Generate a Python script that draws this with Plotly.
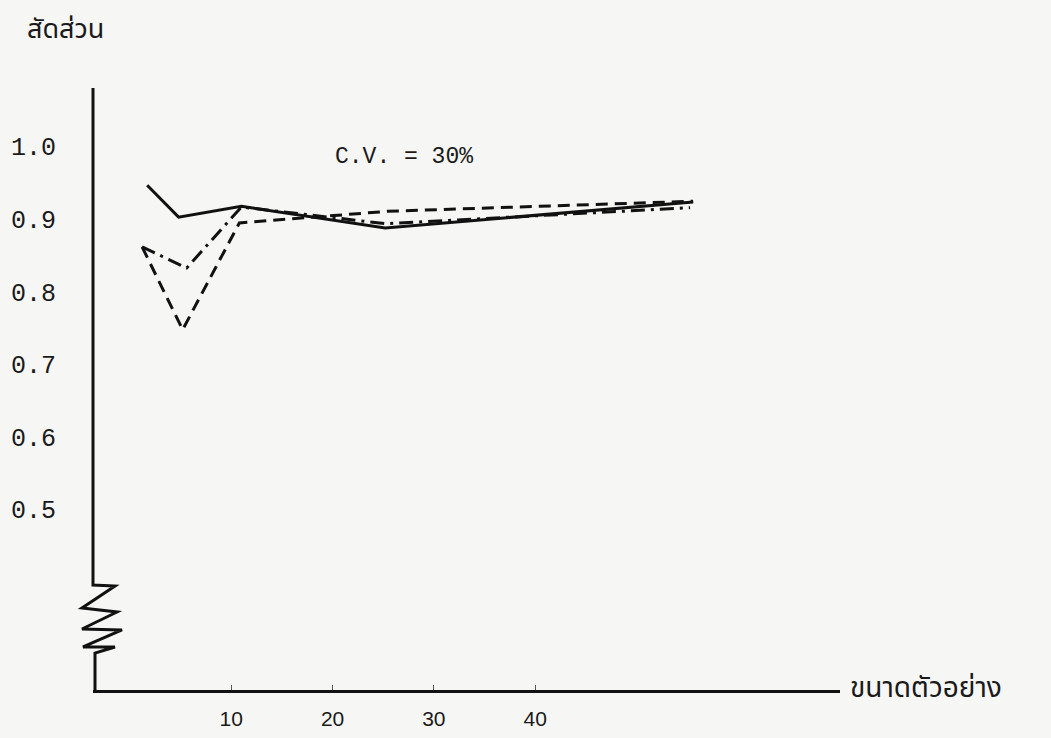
import plotly.graph_objects as go

# ---- data ----
solid_x = [1.7, 4.8, 11.0, 25.2, 55.6]
solid_y = [0.947, 0.903, 0.918, 0.888, 0.924]

dashed_x = [1.2, 5.2, 10.8, 25.4, 55.6]
dashed_y = [0.862, 0.748, 0.895, 0.911, 0.925]

dashdot_x = [1.2, 5.6, 11.0, 25.2, 55.3]
dashdot_y = [0.862, 0.833, 0.917, 0.894, 0.916]

x_ticks = [10, 20, 30, 40]
x_tick_text = ["10", "20", "30", "40"]
y_ticks = [1.0, 0.9, 0.8, 0.7, 0.6, 0.5]
y_tick_text = ["1.0", "0.9", "0.8", "0.7", "0.6", "0.5"]

y_title = "สัดส่วน"
x_title = "ขนาดตัวอย่าง"
note = "C.V. = 30%"

# ---- layout geometry (pixels) ----
W, H = 1051, 738
L, R, T, B = 93, 840, 88, 690
x_range = [-3.65, 70.1]
y_range = [0.2517, 1.0809]

def paper(px, py):
    return (px - L) / (R - L), (B - py) / (B - T)

fig = go.Figure()
fig.add_trace(go.Scatter(x=solid_x, y=solid_y, mode="lines",
                         line=dict(color="#111", width=3), showlegend=False))
fig.add_trace(go.Scatter(x=dashed_x, y=dashed_y, mode="lines",
                         line=dict(color="#111", width=3, dash="12px,7px"), showlegend=False))
fig.add_trace(go.Scatter(x=dashdot_x, y=dashdot_y, mode="lines",
                         line=dict(color="#111", width=3, dash="14px,6px,3px,6px"), showlegend=False))

# broken y axis with zigzag (decoration)
pts = [(93, 88), (93, 585), (115, 586), (82, 608), (117, 612), (82, 629),
       (122, 630), (83, 647), (115, 647), (95, 653), (95, 690)]
path = ""
for i, (px, py) in enumerate(pts):
    xp, yp = paper(px, py)
    path += ("M" if i == 0 else "L") + f"{xp:.5f},{yp:.5f} "
fig.add_shape(type="path", path=path, xref="paper", yref="paper",
              line=dict(color="#111", width=3))

mono = "Liberation Mono, Courier New, monospace"
thai = "Noto Sans Thai, Loma, Garuda, Tlwg Typo, Norasi, DejaVu Sans, sans-serif"

fig.add_annotation(x=20.0, y=0.986, text=note, showarrow=False, xanchor="left",
                   yanchor="middle", font=dict(family=mono, size=23, color="#1a1a1a"))
xa, ya = paper(65, 30)
fig.add_annotation(x=xa, y=ya, xref="paper", yref="paper", text=y_title, showarrow=False,
                   xanchor="center", yanchor="middle", font=dict(family=thai, size=27, color="#1a1a1a"))
xa, ya = paper(848, 688)
fig.add_annotation(x=xa, y=ya, xref="paper", yref="paper", text=x_title, showarrow=False,
                   xanchor="left", yanchor="middle", font=dict(family=thai, size=28, color="#1a1a1a"))

fig.update_xaxes(range=x_range, showgrid=False, zeroline=False, showline=True, automargin=False,
                 linecolor="#111", linewidth=3, tickvals=x_ticks, ticktext=x_tick_text,
                 ticks="inside", ticklen=5, tickwidth=1, tickcolor="#555",
                 ticklabelstandoff=8,
                 tickfont=dict(family="Liberation Sans, Arial, sans-serif", size=21, color="#1a1a1a"))
fig.update_yaxes(range=y_range, showgrid=False, zeroline=False, showline=False, automargin=False,
                 tickvals=y_ticks, ticktext=y_tick_text, ticks="",
                 ticklabelstandoff=36,
                 tickfont=dict(family=mono, size=25, color="#1a1a1a"))

fig.update_layout(width=W, height=H, margin=dict(l=L, r=W - R, t=T, b=H - B, pad=0, autoexpand=False),
                  paper_bgcolor="#f6f6f4", plot_bgcolor="#f6f6f4")

fig.write_html("out.html")
